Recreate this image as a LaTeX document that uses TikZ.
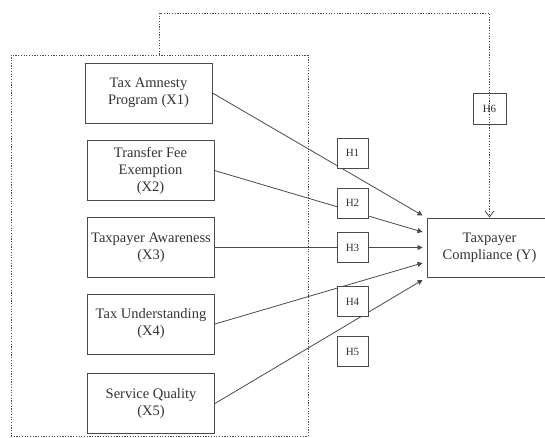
\documentclass[tikz,border=0pt]{standalone}
\usepackage{fontspec}
\setmainfont{Liberation Serif}
\usepackage{xcolor}
\usepackage{tikz}
\usetikzlibrary{arrows.meta}
\definecolor{L0}{HTML}{4a4a4a}
\definecolor{T0}{HTML}{333333}
\tikzset{
  varbox/.style={draw=L0, line width=0.9pt, minimum width=127pt, minimum height=60pt, align=center, text=T0, font=\fontsize{14.5}{17}\selectfont},
  hbox/.style={draw=L0, line width=0.9pt, fill=white, minimum width=31pt, minimum height=30pt, text=T0, font=\fontsize{11}{13}\selectfont},
  path/.style={draw=L0, line width=0.8pt, -{Triangle[length=5pt,width=5pt]}},
  dotline/.style={draw=L0, line width=0.8pt, dash pattern=on 1.2pt off 1.5pt},
}

\begin{document}
\begin{tikzpicture}[x=1pt, y=-1pt]%
\useasboundingbox (0,0) rectangle (545,438);%
\clip (0,0) rectangle (545,438);%
\node[dotline, minimum width=297pt, minimum height=381pt] (frame) at (159.5, 245.5) {};%
\node[varbox] (X1) at (148.5, 93) {Tax Amnesty\\Program (X1)};%
\node[varbox] (X2) at (150.5, 170.5) {Transfer Fee\\Exemption\\(X2)};%
\node[varbox] (X3) at (151, 247.5) {Taxpayer Awareness\\(X3)};%
\node[varbox] (X4) at (151, 324) {Tax Understanding\\(X4)};%
\node[varbox] (X5) at (151, 403.5) {Service Quality\\(X5)};%
\node[varbox, minimum width=125pt, minimum height=59pt] (Y) at (489.5, 247.5) {Taxpayer\\Compliance (Y)};%
\coordinate (top) at (489.5, 13);%
\draw[path] (X1.east) -- ([shift={(-4,-32)}]Y.west);%
\draw[path] (X2.east) -- ([shift={(-4,-15.5)}]Y.west);%
\draw[path] (X3.east) -- ([shift={(-4,0)}]Y.west);%
\draw[path] (X4.east) -- ([shift={(-4,15.5)}]Y.west);%
\draw[path] (X5.east) -- ([shift={(-4,32.5)}]Y.west);%
\draw[dotline, -{Straight Barb[length=6pt,width=9pt]}] (frame.north) |- (top) -- (Y.north);%
\node[hbox] (H1) at (352.5, 153) {H1};%
\node[hbox] (H2) at (352.5, 203) {H2};%
\node[hbox] (H3) at (352.5, 247.5) {H3};%
\node[hbox] (H4) at (352.5, 301.5) {H4};%
\node[hbox] (H5) at (352.5, 351.5) {H5};%
\node[hbox, fill=none, minimum width=33pt, minimum height=31pt] (H6) at (489.5, 108.5) {H6};%
\end{tikzpicture}
\end{document}
